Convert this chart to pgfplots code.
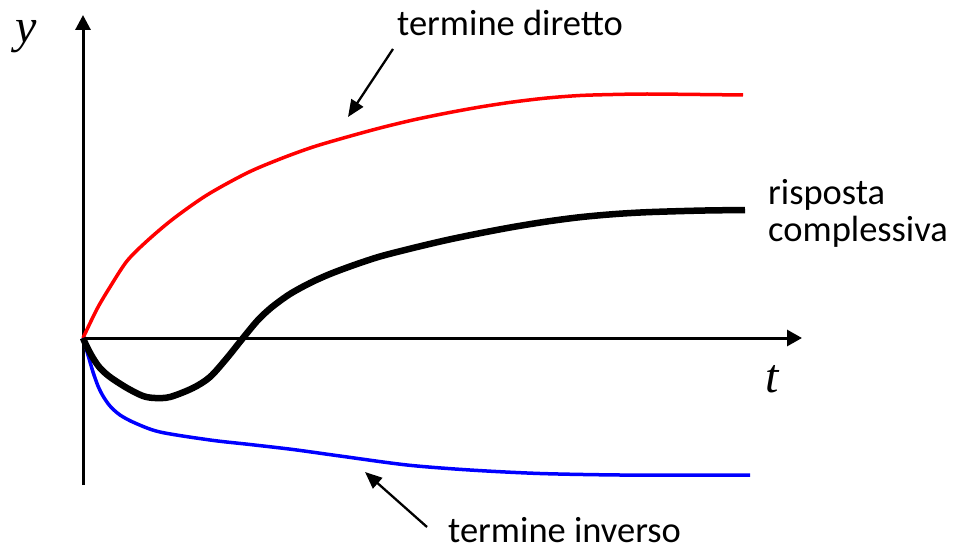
\documentclass[border=0pt]{standalone}
\usepackage{fontspec}
\setmainfont{Carlito}
\newfontfamily\timesfont{Liberation Serif}
\usepackage{pgfplots}
\pgfplotsset{compat=1.18}
\usetikzlibrary{arrows.meta}
\definecolor{pred}{RGB}{255,0,0}
\definecolor{pblue}{RGB}{0,0,255}
\begin{document}
\begin{tikzpicture}
\begin{axis}[
  width=955pt, height=550pt, scale only axis,
  xmin=0, xmax=955, ymin=0, ymax=550,
  hide axis, clip=false,
]
% invisible frame to fix the bounding box
\addplot[draw=none, forget plot] coordinates {(0,0) (955,550)};
% axes
\addplot[black, line width=3pt, -{Triangle[length=15pt,width=15pt]}] coordinates {(83,65) (83,535)};
\addplot[black, line width=3pt, -{Triangle[length=15pt,width=16pt]}] coordinates {(83,212) (802,212)};
% termine diretto (red)
\addplot[pred, line width=3.5pt, smooth] coordinates {
(83,212) (97,241) (110,263) (127,289) (147,309) (173,331) (207,355) (247,377)
(280,391) (313,403) (347,413) (380,422) (413,430) (447,437) (480,443) (513,448)
(547,452) (580,454.5) (613,455.5) (647,456) (700,455.5) (743,455)};
% termine inverso (blue)
\addplot[pblue, line width=3.5pt, smooth] coordinates {
(83,212) (88,195) (93,178) (98,164) (103,154) (110,144) (120,135) (135,127)
(160,118) (210,110) (250,105.5) (293,100.5) (340,94) (407,85) (470,80) (540,76.5)
(620,75) (700,75) (750,75)};
% risposta complessiva (black)
\addplot[black, line width=6.5pt, smooth] coordinates {
(83,212) (87,203) (93,192) (100,182) (110,173) (127,162) (143,154) (155,152)
(170,153) (193,162) (210,173) (227,192) (243,212) (258,230) (272,243) (290,256)
(310,267) (330,276) (355,285.3) (380,293.5) (413,302) (447,310) (480,316.8)
(513,323) (547,328.5) (580,332.8) (613,335.8) (647,337.8) (700,339.4) (745,340)};
% annotation arrows
\addplot[black, line width=2.3pt, -{Triangle[length=17pt,width=14pt]}] coordinates {(393,501) (348,433)};
\addplot[black, line width=2.3pt, -{Triangle[length=17pt,width=14pt]}] coordinates {(427,23) (365,78)};
% labels
\node[anchor=base west, inner sep=0pt, font=\fontsize{48}{48}\selectfont\timesfont\itshape] at (axis cs:15,507) {y};
\node[anchor=base west, inner sep=0pt, font=\fontsize{48}{48}\selectfont\timesfont\itshape] at (axis cs:765,158) {t};
\node[anchor=base west, inner sep=0pt, font=\fontsize{36.5}{36.5}\selectfont] at (axis cs:397,514) {termine diretto};
\node[anchor=base west, inner sep=0pt, font=\fontsize{36.5}{36.5}\selectfont] at (axis cs:448,8) {termine inverso};
\node[anchor=base west, inner sep=0pt, font=\fontsize{36.5}{36.5}\selectfont] at (axis cs:768,346) {risposta};
\node[anchor=base west, inner sep=0pt, font=\fontsize{36.5}{36.5}\selectfont] at (axis cs:768,309) {complessiva};
\end{axis}
\end{tikzpicture}
\end{document}
